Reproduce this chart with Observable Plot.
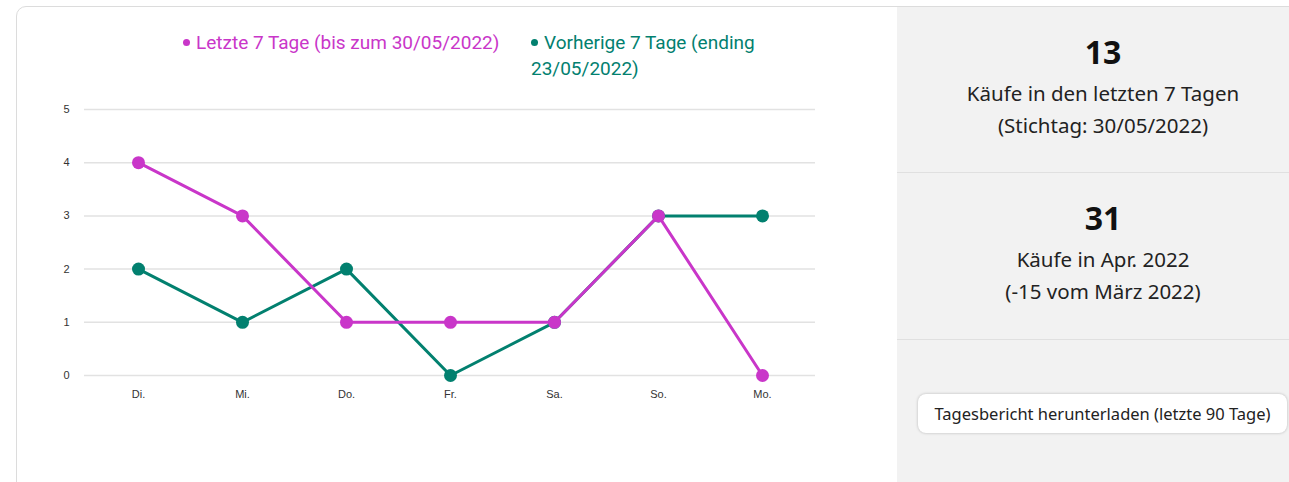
<!DOCTYPE html>
<html><head><meta charset="utf-8">
<script src="https://cdn.jsdelivr.net/npm/d3@7"></script>
<script src="https://cdn.jsdelivr.net/npm/@observablehq/plot@0.6"></script>
<style>
body{margin:0;background:#fff;width:1289px;height:482px;overflow:hidden;position:relative;font-family:"Noto Sans","Open Sans",sans-serif;}
#card{position:absolute;left:16px;top:6px;width:1290px;height:490px;border:1px solid #dcdcdc;border-radius:10px;background:#fff;overflow:hidden;}
#right{position:absolute;left:880px;top:0;width:420px;height:490px;background:#f2f2f2;}
.sec{position:absolute;left:0;width:412px;text-align:center;color:#111;}
.big{font-weight:bold;font-size:32px;line-height:36px;}
.sub{font-size:20.5px;line-height:32px;color:#222;margin-top:7px;}
.div{position:absolute;left:0;width:420px;height:1px;background:#e0e0e0;}
#btn{position:absolute;left:21px;top:387px;width:369px;height:39px;background:#fff;border-radius:8px;box-shadow:0 0 3px rgba(0,0,0,0.25);font-size:16.5px;line-height:39px;color:#222;text-align:center;white-space:nowrap;}
#legend{position:absolute;top:23px;font-family:Roboto,"Liberation Sans",sans-serif;font-size:19px;line-height:26px;}
#chart{position:absolute;left:0;top:84px;}
.bul{display:inline-block;width:7px;height:7px;border-radius:50%;margin-right:6px;vertical-align:3px;}
</style></head><body>
<div id="card">
  <div id="legend"></div>
  <div id="chart"></div>
  <div id="right">
    <div class="sec" style="top:27px"><div class="big">13</div><div class="sub">Käufe in den letzten 7 Tagen<br>(Stichtag: 30/05/2022)</div></div>
    <div class="div" style="top:165px"></div>
    <div class="sec" style="top:193px"><div class="big">31</div><div class="sub">Käufe in Apr. 2022<br>(-15 vom März 2022)</div></div>
    <div class="div" style="top:332px"></div>
    <div id="btn">Tagesbericht herunterladen (letzte 90 Tage)</div>
  </div>
</div>
<script>
const days = ["Di.","Mi.","Do.","Fr.","Sa.","So.","Mo."];
const lastWeek = [4,3,1,1,1,3,0];
const prevWeek = [2,1,2,0,1,3,3];
const seriesNames = ["Letzte 7 Tage (bis zum 30/05/2022)","Vorherige 7 Tage (ending 23/05/2022)"];
const colors = ["#c936c9","#02806f"];
const yTicks = [0,1,2,3,4,5];

const data = [];
days.forEach((d,i)=>{
  data.push({day:d, value:lastWeek[i], s:seriesNames[0]});
  data.push({day:d, value:prevWeek[i], s:seriesNames[1]});
});
const colorScale = {domain:seriesNames, range:colors};

const chart = Plot.plot({
  width: 863, height: 324,
  marginLeft: 67, marginRight: 65, marginTop: 18, marginBottom: 40,
  style:{fontFamily:"'Liberation Sans',Arial,sans-serif", fontSize:"11px", color:"#333", background:"transparent"},
  x:{type:"point", domain:days, padding:0.5, label:null},
  y:{domain:[0,5], label:null},
  color:colorScale,
  marks:[
    Plot.ruleY(yTicks, {stroke:"#e2e2e2", strokeWidth:1.5}),
    Plot.axisY(yTicks, {tickSize:0, tickPadding:14, label:null, fill:"#333", textAnchor:"middle", dx:-4, tickFormat:d3.format("d")}),
    Plot.axisX({tickSize:0, tickPadding:15, label:null, fill:"#333"}),
    Plot.line(data.filter(d=>d.s===seriesNames[1]), {x:"day", y:"value", stroke:"s", strokeWidth:3}),
    Plot.dot(data.filter(d=>d.s===seriesNames[1]), {x:"day", y:"value", fill:"s", r:6.5}),
    Plot.line(data.filter(d=>d.s===seriesNames[0]), {x:"day", y:"value", stroke:"s", strokeWidth:3}),
    Plot.dot(data.filter(d=>d.s===seriesNames[0]), {x:"day", y:"value", fill:"s", r:6.5})
  ]
});
document.getElementById("chart").appendChild(chart);

// legend
const leg = document.getElementById("legend");
const pos = [{left:166,w:332},{left:514,w:240}];
seriesNames.forEach((n,i)=>{
  const el = document.createElement("div");
  el.style.position="absolute";
  el.style.left=pos[i].left+"px";
  el.style.width=pos[i].w+"px";
  el.style.color=colors[i];
  el.innerHTML = '<span class="bul" style="background:'+colors[i]+'"></span>'+n;
  leg.appendChild(el);
});
</script>
</body></html>
